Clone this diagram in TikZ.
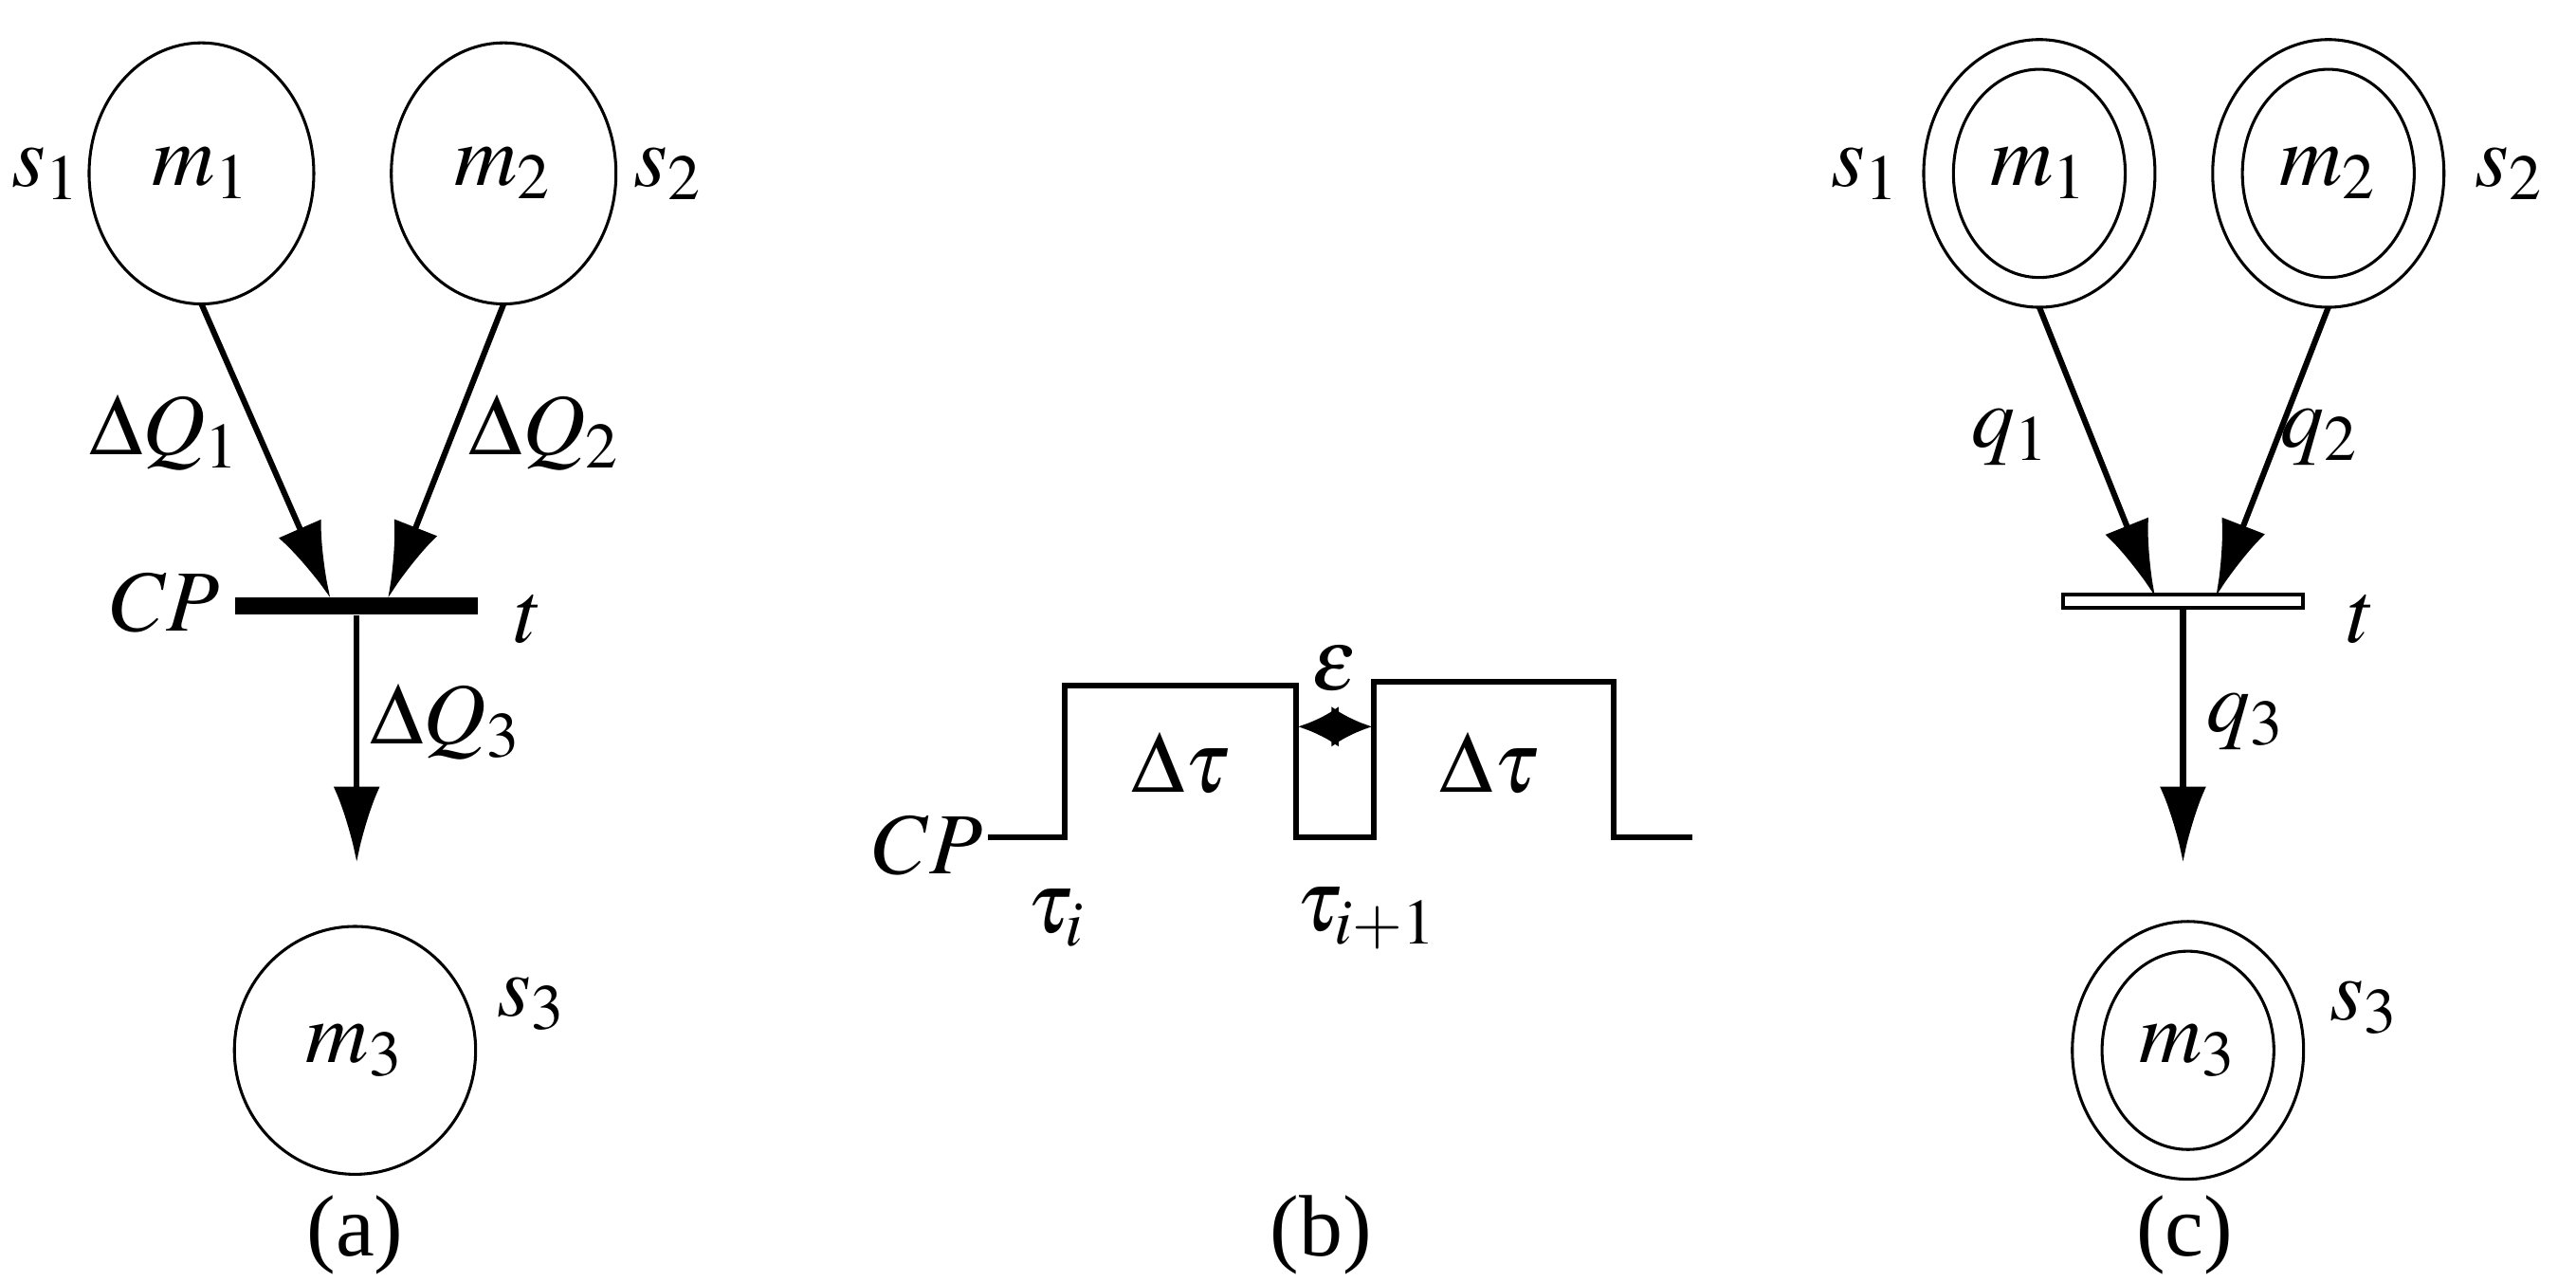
\documentclass[tikz,border=0pt]{standalone}
\usepackage[no-math]{fontspec}
\usepackage{mathptmx}
\setmainfont{Liberation Serif}
\usetikzlibrary{shapes.geometric,arrows.meta}
\begin{document}
\begin{tikzpicture}[x=0.01cm,y=-0.01cm,
  font=\fontsize{15}{17}\selectfont,
  place/.style={ellipse,draw,line width=0.5pt,minimum height=1.58cm,inner sep=0pt,outer sep=0pt},
  outer/.style={ellipse,draw,line width=0.5pt,minimum width=1.4cm,minimum height=1.62cm,inner sep=0pt,outer sep=0pt},
  inner/.style={ellipse,draw,line width=0.5pt,minimum width=1.04cm,minimum height=1.26cm,inner sep=0pt},
  arr/.style={line width=1pt,-{Latex[length=13pt,width=8pt]}},
  wave/.style={line width=1pt}]
\useasboundingbox (0,0) rectangle (1560,776);
% (a)
\node[place,minimum width=1.36cm] (m1) at (122,105) {$m_1$};
\node[place,minimum width=1.36cm] (m2) at (305,105) {$m_2$};
\node[place,minimum width=1.46cm,minimum height=1.5cm] (m3) at (215,636) {$m_3$};
\node (s1) at (28,105) {$s_1$};
\node (s2) at (405,105) {$s_2$};
\node (s3) at (322,608) {$s_3$};
\node[fill,minimum width=1.47cm,minimum height=0.1cm,inner sep=0pt] (bar) at (216,367) {};
\node (cp) at (100,365) {$CP$};
\node (t) at (320,375) {$t$};
\coordinate (a1) at (200,362);
\coordinate (a2) at (235,362);
\coordinate (a3) at (216,522);
\draw[arr] (m1.south) -- (a1);
\draw[arr] (m2.south) -- (a2);
\draw[arr] (bar.south) -- (a3);
\node (q1) at (100,262) {$\Delta Q_1$};
\node (q2) at (330,262) {$\Delta Q_2$};
\node (q3) at (270,437) {$\Delta Q_3$};
\node (la) at (215,748) {(a)};
% (b)
\coordinate (w0) at (598,507);
\coordinate (w1) at (645,507);
\coordinate (w2) at (645,415);
\coordinate (w3) at (785,415);
\coordinate (w4) at (785,507);
\coordinate (w5) at (832,507);
\coordinate (w6) at (832,413);
\coordinate (w7) at (977,413);
\coordinate (w8) at (977,507);
\coordinate (w9) at (1025,507);
\draw[wave] (w0)--(w1)--(w2)--(w3)--(w4)--(w5)--(w6)--(w7)--(w8)--(w9);
\node (cpb) at (562,512) {$CP$};
\node (ti) at (640,556) {$\tau_i$};
\node (ti1) at (828,556) {$\tau_{i+1}$};
\node (d1) at (715,462) {$\Delta\tau$};
\node (d2) at (902,462) {$\Delta\tau$};
\node (eps) at (808,405) {$\varepsilon$};
\coordinate (e1) at (786,440);
\coordinate (e2) at (831,440);
\draw[line width=1pt,{Latex[length=7pt,width=7pt]}-{Latex[length=7pt,width=7pt]}] (e1) -- (e2);
\node (lb) at (800,748) {(b)};
% (c)
\node[outer] (c1) at (1235,105) {};
\node[inner] (c1i) at (1235,105) {$m_1$};
\node[outer] (c2) at (1410,105) {};
\node[inner] (c2i) at (1410,105) {$m_2$};
\node[outer,minimum height=1.56cm] (c3) at (1325,636) {};
\node[inner,minimum height=1.2cm] (c3i) at (1325,636) {$m_3$};
\node (cs1) at (1130,105) {$s_1$};
\node (cs2) at (1520,105) {$s_2$};
\node (cs3) at (1432,610) {$s_3$};
\node[draw,line width=0.7pt,fill=white,minimum width=1.45cm,minimum height=0.08cm,inner sep=0pt] (cbar) at (1322,364) {};
\node (ct) at (1430,375) {$t$};
\coordinate (b1) at (1305,361);
\coordinate (b2) at (1342,361);
\coordinate (b3) at (1322,522);
\draw[arr] (c1.south) -- (b1);
\draw[arr] (c2.south) -- (b2);
\draw[arr] (cbar.south) -- (b3);
\node (cq1) at (1218,265) {$q_1$};
\node (cq2) at (1405,265) {$q_2$};
\node (cq3) at (1360,437) {$q_3$};
\node (lc) at (1323,748) {(c)};
\end{tikzpicture}
\end{document}
